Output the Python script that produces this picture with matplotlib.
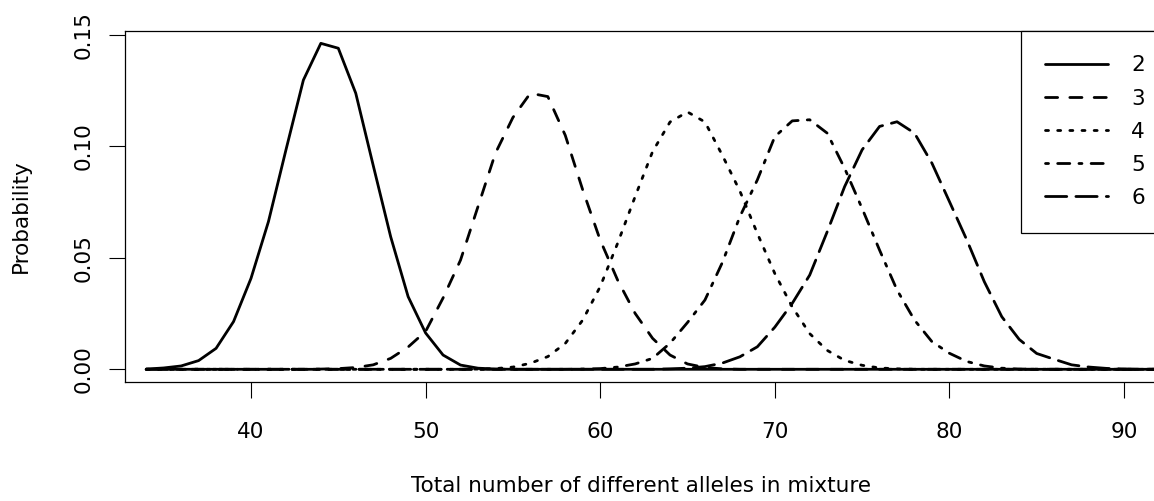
import numpy as np
import matplotlib
matplotlib.use("Agg")
import matplotlib.pyplot as plt

plt.rcParams['font.family'] = ['DejaVu Sans']

# ---- data ----
x_values = np.arange(34, 93)
labels = ["2", "3", "4", "5", "6"]

start_2 = 34
p_2 = [0.0001, 0.0006, 0.0015, 0.0039, 0.0094, 0.0214, 0.0408, 0.0663, 0.0984,
       0.1298, 0.1463, 0.1441, 0.1239, 0.0915, 0.0595, 0.0326, 0.0163, 0.0064,
       0.0019, 0.0005, 0.0001]
start_3 = 44
p_3 = [0.0001, 0.0003, 0.0008, 0.0020, 0.0049, 0.0100, 0.0170, 0.0320, 0.0490,
       0.0730, 0.0970, 0.1130, 0.1239, 0.1224, 0.1050, 0.0805, 0.0580, 0.0400,
       0.0251, 0.0139, 0.0064, 0.0024, 0.0008, 0.0002]
start_4 = 53
p_4 = [0.0001, 0.0003, 0.0010, 0.0027, 0.0057, 0.0116, 0.0221, 0.0371, 0.0566,
       0.0775, 0.0977, 0.1110, 0.1155, 0.1110, 0.0960, 0.0800, 0.0610, 0.0430,
       0.0280, 0.0160, 0.0085, 0.0040, 0.0018, 0.0006, 0.0002]
start_5 = 59
p_5 = [0.0001, 0.0003, 0.0010, 0.0024, 0.0049, 0.0117, 0.0210, 0.0311, 0.0480,
       0.0685, 0.0850, 0.1044, 0.1115, 0.1120, 0.1060, 0.0902, 0.0722, 0.0535,
       0.0356, 0.0221, 0.0124, 0.0072, 0.0035, 0.0015, 0.0005, 0.0001]
start_6 = 64
p_6 = [0.0002, 0.0005, 0.0012, 0.0028, 0.0056, 0.0101, 0.0189, 0.0296, 0.0423,
       0.0617, 0.0820, 0.0985, 0.1090, 0.1111, 0.1060, 0.0925, 0.0753, 0.0580,
       0.0393, 0.0236, 0.0134, 0.0071, 0.0045, 0.0020, 0.0010, 0.0004, 0.0001]

x_ticks = [40, 50, 60, 70, 80, 90]
y_ticks = [0.00, 0.05, 0.10, 0.15]
y_ticklabels = ["0.00", "0.05", "0.10", "0.15"]


def full_series(start, vals):
    y = np.zeros(len(x_values))
    i = int(start - x_values[0])
    y[i:i + len(vals)] = vals
    return y


series = [full_series(start_2, p_2), full_series(start_3, p_3),
          full_series(start_4, p_4), full_series(start_5, p_5),
          full_series(start_6, p_6)]

# ---- figure ----
W, H = 1154, 501
FS = 15.5
fig = plt.figure(figsize=(W / 100, H / 100), dpi=100)
ax_left, ax_right, ax_top, ax_bottom = 125, 1157, 30.7, 381.7
ax = fig.add_axes([ax_left / W, 1 - ax_bottom / H,
                   (ax_right - ax_left) / W, (ax_bottom - ax_top) / H])

lw = 2.0
u = 3.04 / (lw * 100 / 72)
styles = ['-', (0, (4 * u, 4 * u)), (0, (1 * u, 3 * u)),
          (0, (1 * u, 3 * u, 4 * u, 3 * u)), (0, (7 * u, 3 * u))]

for y, ls, lab in zip(series, styles, labels):
    ax.plot(x_values, y, color='black', lw=lw, linestyle=ls, label=lab,
            dash_capstyle='round', solid_capstyle='round',
            solid_joinstyle='round', dash_joinstyle='round')

ax.set_xlim(32.784, 91.89)
ax.set_ylim(-0.00557, 0.15197)
ax.set_xticks(x_ticks)
ax.set_xticklabels([str(t) for t in x_ticks])
ax.set_yticks(y_ticks)
ax.set_yticklabels(y_ticklabels)

for s in ax.spines.values():
    s.set_linewidth(0.9)
    s.set_color('black')

ax.tick_params(axis='both', direction='out', length=11.3, width=0.8,
               labelsize=FS, color='black')
ax.tick_params(axis='x', pad=17.5)
ax.tick_params(axis='y', pad=11.5, labelrotation=90)
for t in ax.get_yticklabels():
    t.set_va('center')

fig.text(641 / W, 1 - 492 / H, "Total number of different alleles in mixture",
         ha='center', va='baseline', fontsize=FS)
fig.text(27 / W, 1 - 216 / H, "Probability", rotation=90,
         rotation_mode='anchor', ha='center', va='baseline', fontsize=FS)

leg = ax.legend(loc='upper left',
                bbox_to_anchor=((1020.7 - ax_left) / (ax_right - ax_left), 1.0),
                borderaxespad=0, fontsize=FS, handlelength=2.91, handletextpad=1.07,
                borderpad=1.15, labelspacing=0.61, fancybox=False,
                edgecolor='black', framealpha=1)
leg.get_frame().set_linewidth(0.9)

fig.savefig("out.png", dpi=100)
